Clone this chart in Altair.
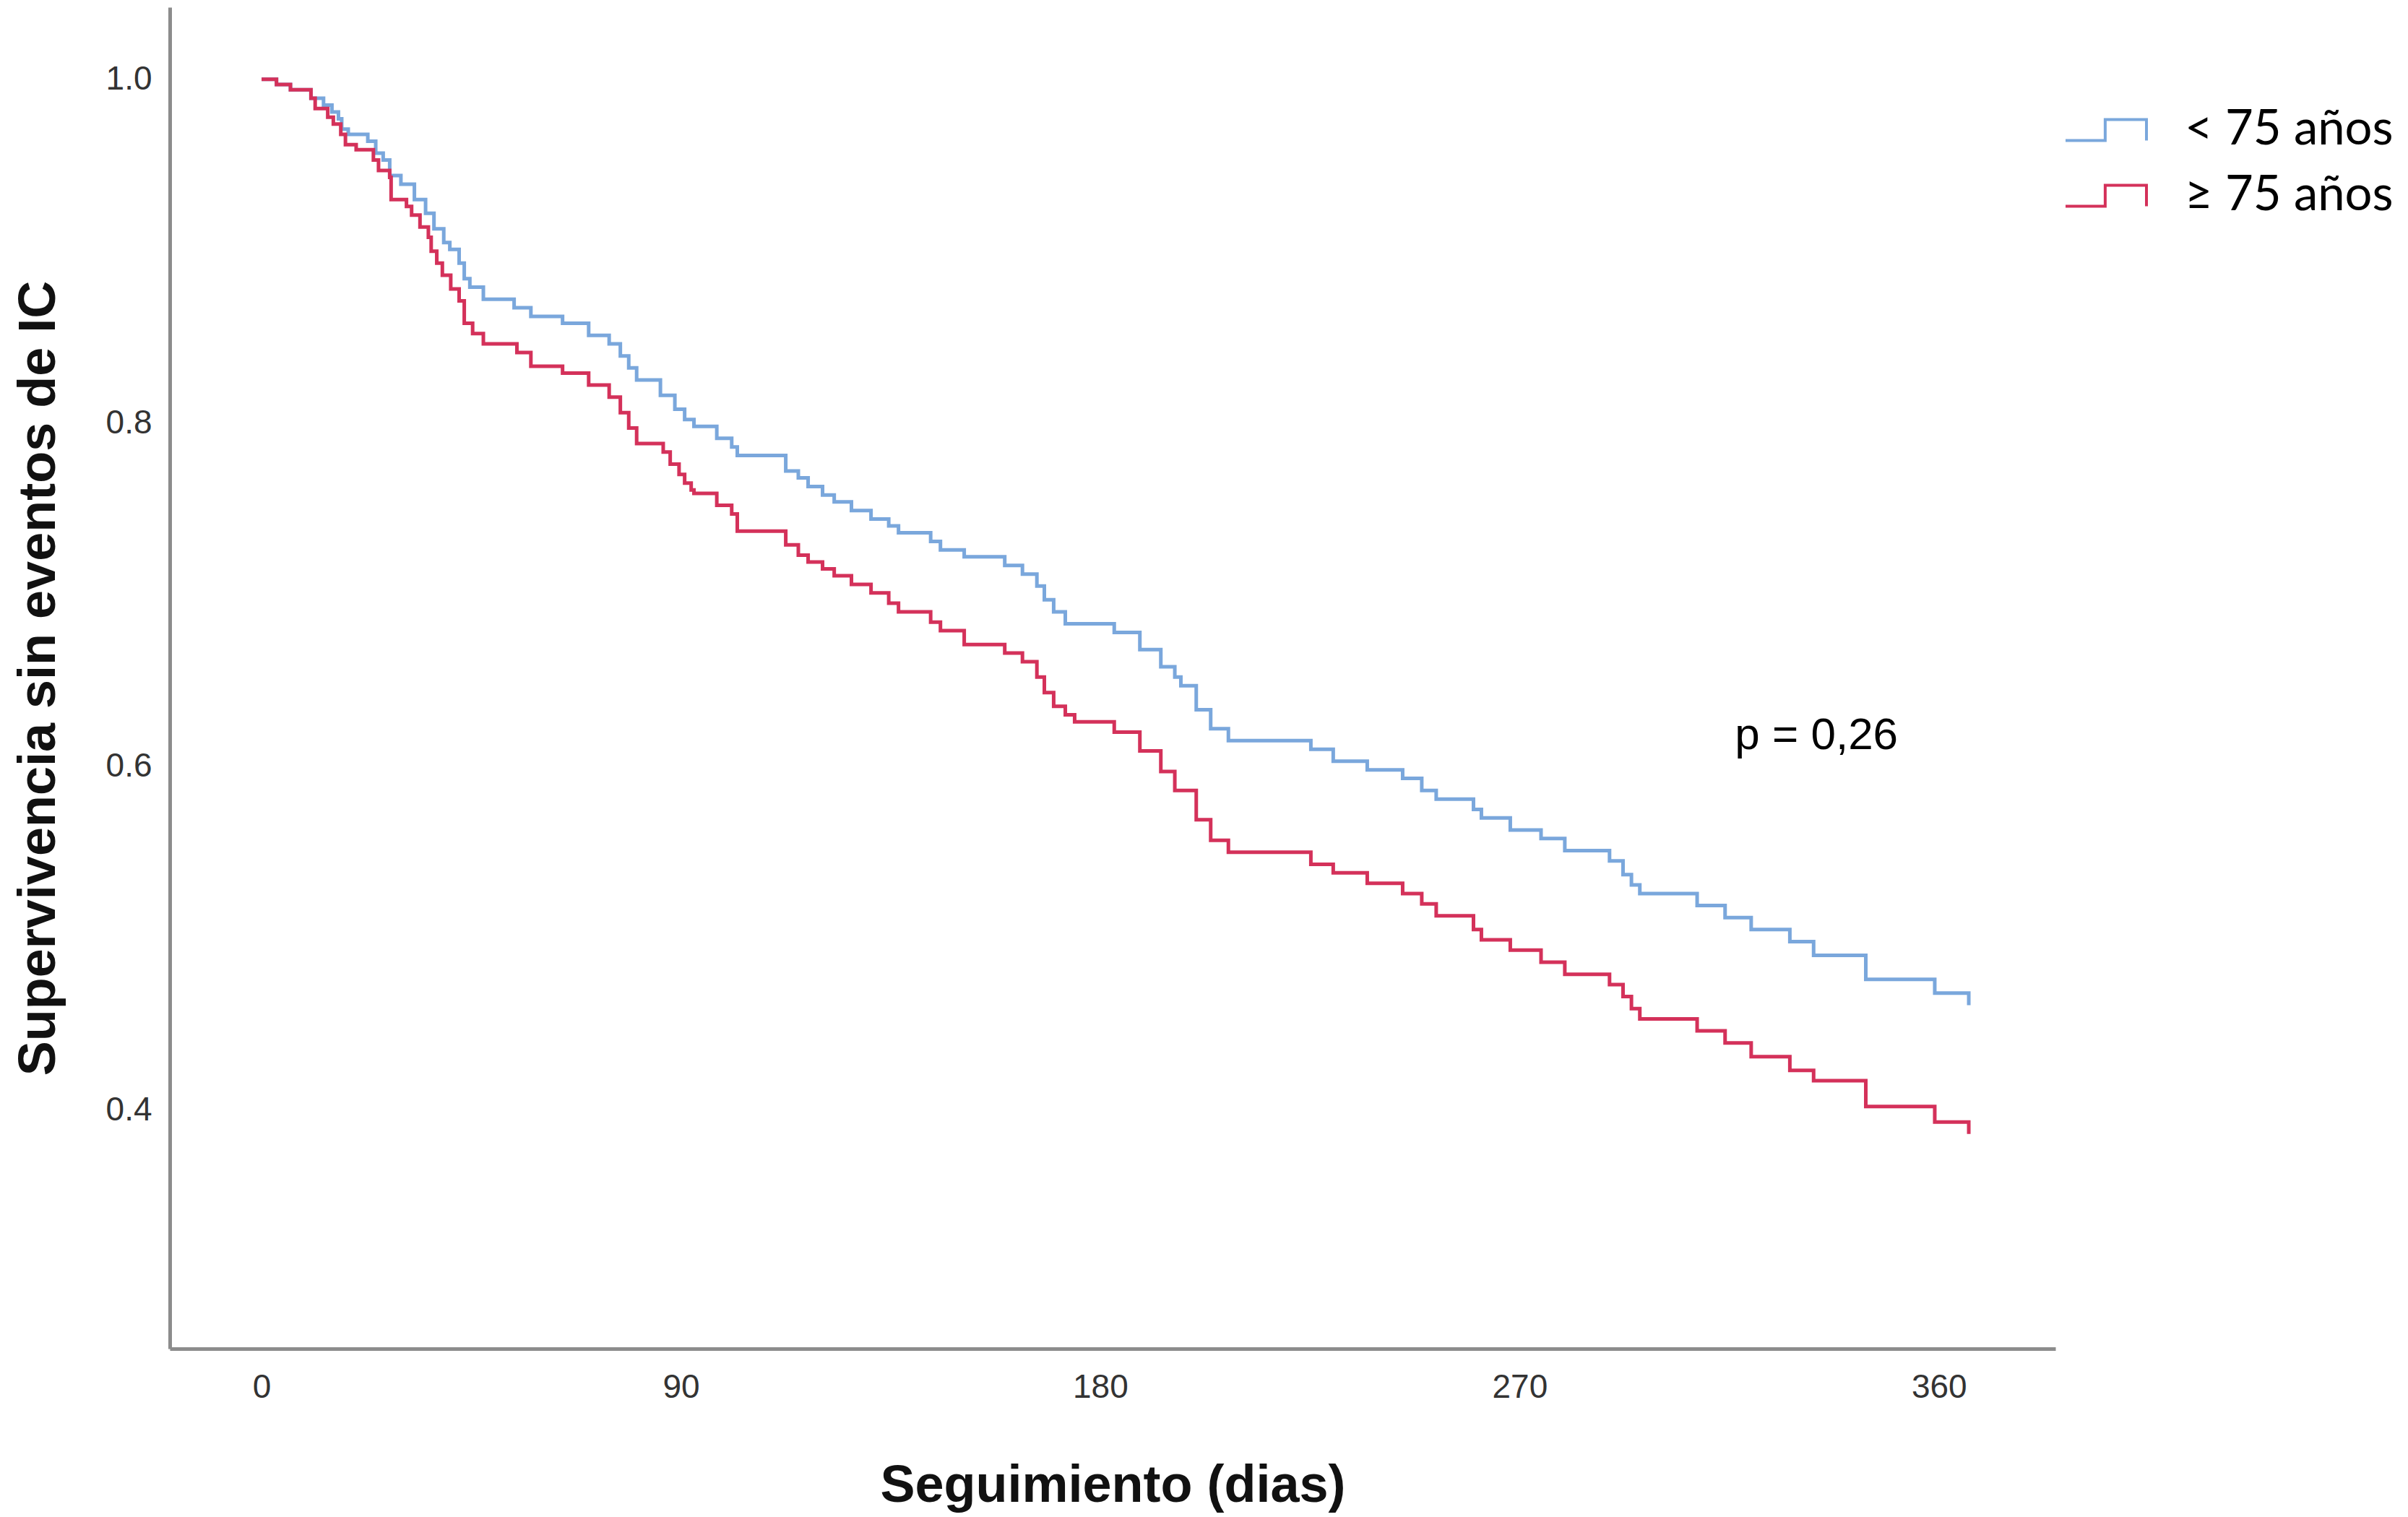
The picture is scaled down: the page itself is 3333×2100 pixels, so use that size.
import altair as alt
import pandas as pd

groups = ["< 75 años", "≥ 75 años"]
colors = ["#7aa7dc", "#d4315a"]

days_lt75 = [0, 3.2, 6.2, 10.6, 13.3, 15.1, 16.5, 17.2, 18.6, 22.8, 24.5, 26.1, 27.5, 29.9, 32.8,
             35.2, 37.0, 39.1, 40.4, 42.4, 43.5, 44.7, 47.6, 54.2, 57.8, 64.6, 70.2, 74.6, 77.0, 78.8,
             80.5, 85.6, 88.7, 90.8, 92.8, 97.7, 100.9, 102.1, 112.5, 115.2, 117.3, 120.4, 122.9, 126.6, 130.8,
             134.6, 136.7, 143.6, 145.7, 150.8, 159.5, 163.3, 166.4, 168.0, 170.0, 172.5, 183.0, 188.5, 193.0, 196.0,
             197.3, 200.6, 203.7, 207.5, 225.2, 230.0, 237.3, 244.9, 249.0, 252.1, 260.1, 261.8, 268.0, 274.6, 279.7,
             289.3, 292.2, 294.0, 295.8, 308.1, 314.1, 319.7, 328.0, 333.1, 344.3, 359.1, 366.4]
surv_lt75 = [1.000, 0.997, 0.994, 0.989, 0.985, 0.981, 0.977, 0.971, 0.968, 0.964, 0.957, 0.953, 0.944, 0.939, 0.930,
             0.922, 0.913, 0.905, 0.901, 0.893, 0.884, 0.879, 0.872, 0.867, 0.862, 0.858, 0.851, 0.846, 0.839, 0.832,
             0.825, 0.816, 0.808, 0.802, 0.798, 0.791, 0.786, 0.781, 0.772, 0.768, 0.763, 0.758, 0.754, 0.749, 0.744,
             0.740, 0.736, 0.731, 0.726, 0.722, 0.717, 0.712, 0.705, 0.697, 0.690, 0.683, 0.678, 0.668, 0.658, 0.652,
             0.647, 0.633, 0.622, 0.615, 0.610, 0.603, 0.598, 0.593, 0.586, 0.581, 0.575, 0.570, 0.563, 0.558, 0.551,
             0.545, 0.537, 0.531, 0.526, 0.519, 0.512, 0.505, 0.498, 0.490, 0.476, 0.468, 0.461]

days_ge75 = [0, 3.2, 6.2, 10.6, 11.5, 14.2, 15.4, 17.0, 18.0, 20.3, 24.0, 25.1, 27.5, 27.8, 31.1,
             32.2, 34.0, 35.8, 36.4, 37.6, 38.8, 40.6, 42.4, 43.5, 45.3, 47.6, 54.8, 57.8, 64.6, 70.2,
             74.6, 77.0, 78.8, 80.5, 86.2, 87.7, 89.6, 90.8, 92.2, 92.8, 97.7, 100.9, 102.1, 112.5, 115.2,
             117.3, 120.4, 122.9, 126.6, 130.8, 134.6, 136.7, 143.6, 145.7, 150.8, 159.5, 163.3, 166.4, 168.0, 170.0,
             172.5, 174.5, 183.0, 188.5, 193.0, 196.0, 200.6, 203.7, 207.5, 225.2, 230.0, 237.3, 244.9, 249.0, 252.1,
             260.1, 261.8, 268.0, 274.6, 279.7, 289.3, 292.2, 294.0, 295.8, 308.1, 314.1, 319.7, 328.0, 333.1, 344.3,
             359.1, 366.4]
surv_ge75 = [1.000, 0.997, 0.994, 0.989, 0.983, 0.978, 0.974, 0.968, 0.962, 0.959, 0.953, 0.947, 0.943, 0.930, 0.926,
             0.921, 0.914, 0.908, 0.900, 0.893, 0.886, 0.878, 0.871, 0.858, 0.852, 0.846, 0.841, 0.833, 0.829, 0.822,
             0.815, 0.806, 0.797, 0.788, 0.783, 0.776, 0.770, 0.765, 0.761, 0.759, 0.752, 0.747, 0.737, 0.729, 0.723,
             0.719, 0.715, 0.711, 0.706, 0.701, 0.695, 0.690, 0.684, 0.679, 0.671, 0.666, 0.661, 0.652, 0.643, 0.635,
             0.630, 0.626, 0.620, 0.609, 0.597, 0.586, 0.569, 0.557, 0.550, 0.543, 0.538, 0.532, 0.526, 0.520, 0.513,
             0.505, 0.499, 0.493, 0.486, 0.479, 0.473, 0.466, 0.459, 0.453, 0.446, 0.439, 0.431, 0.423, 0.417, 0.402,
             0.393, 0.386]

x_ticks = [0, 90, 180, 270, 360]
y_ticks = [0.4, 0.6, 0.8, 1.0]
x_domain = [-19.7, 385.0]
y_domain = [0.261, 1.042]

annot_text = ["p = 0,26"]
annot_day = [316.2]
annot_surv = [0.610]

W, H = 2610, 1857

rows = []
for g, ds, ss in ((groups[0], days_lt75, surv_lt75), (groups[1], days_ge75, surv_ge75)):
    for d, s in zip(ds, ss):
        rows.append({"grupo": g, "dia": d, "surv": s})
df = pd.DataFrame(rows)
adf = pd.DataFrame({"txt": annot_text, "dia": annot_day, "surv": annot_surv})

x_enc = alt.X("dia:Q",
              scale=alt.Scale(domain=x_domain, nice=False, zero=False),
              axis=alt.Axis(values=x_ticks, format="d", title="Seguimiento (dias)",
                            labelPadding=31, titleY=211, titleBaseline="alphabetic"))
y_enc = alt.Y("surv:Q",
              scale=alt.Scale(domain=y_domain, nice=False, zero=False),
              axis=alt.Axis(values=y_ticks, format=".1f", title="Supervivencia sin eventos de IC",
                            labelPadding=25, titleX=-160, titleAngle=270, titleBaseline="alphabetic"))

legend = alt.Legend(title=None, orient="none", legendX=2622, legendY=112,
                    symbolType="M-1,0.26L-0.02,0.26L-0.02,-0.26L1,-0.26L1,0.26",
                    symbolSize=12544, symbolStrokeWidth=4, symbolFillColor="transparent",
                    labelFont="Lato", labelFontSize=67, labelColor="#000000", labelLimit=1000,
                    labelOffset=51, rowPadding=-19, padding=0)

lines = alt.Chart(df).mark_line(interpolate="step-after", strokeWidth=5).encode(
    x=x_enc, y=y_enc,
    color=alt.Color("grupo:N", scale=alt.Scale(domain=groups, range=colors), legend=legend),
)

ptext = alt.Chart(adf).mark_text(align="left", baseline="alphabetic", font="Liberation Sans",
                                 fontSize=62, color="#000000").encode(
    x=x_enc, y=y_enc, text="txt:N")

chart = alt.layer(lines, ptext).properties(
    width=W, height=H,
    padding={"left": 227, "top": 2, "right": 480, "bottom": 231},
    autosize=alt.AutoSizeParams(type="none"),
).configure_axis(
    domainColor="#8c8c8c", domainWidth=5, ticks=False, tickSize=0, grid=False,
    labelFont="Liberation Sans", labelFontSize=46, labelColor="#333333",
    titleFont="Liberation Sans", titleFontSize=72, titleFontWeight="bold", titleColor="#111111",
).configure_view(strokeWidth=0)

chart.save("out.html", embed_options={"renderer": "svg", "actions": False})
